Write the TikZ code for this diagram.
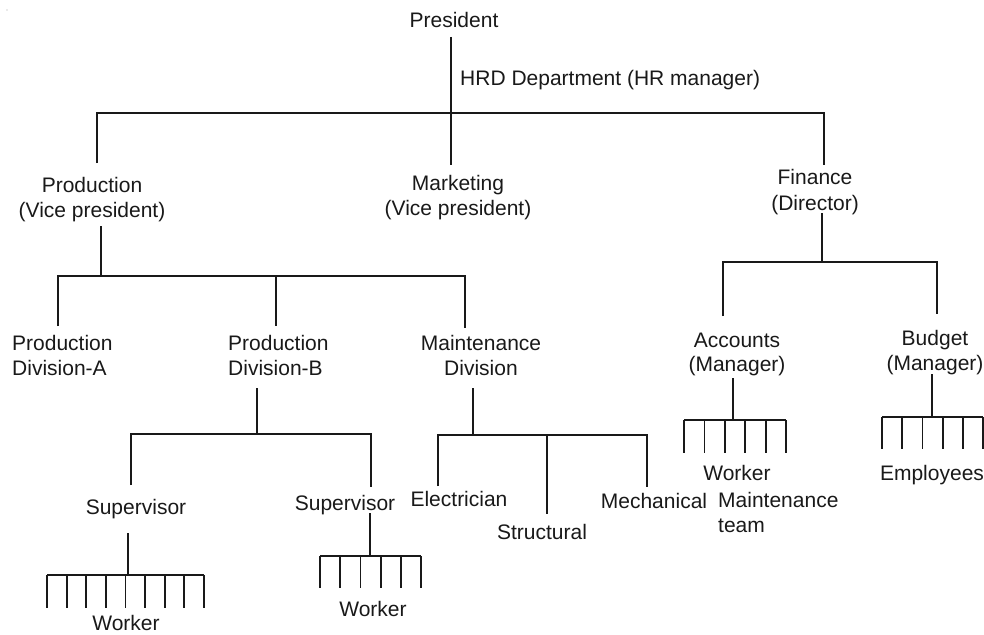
\documentclass[tikz,border=0pt]{standalone}
\usepackage{fontspec}
\setmainfont{Liberation Sans}
\begin{document}
\begin{tikzpicture}[x=1pt,y=-1pt,
  lbl/.style={inner sep=0pt,anchor=base,font=\fontsize{21}{25}\selectfont,text=black!90},
  lblw/.style={lbl,anchor=base west},
  ln/.style={draw=black!90,line width=1.8pt}]
\useasboundingbox (0,0) rectangle (984,634);
\fill[black!35] (7,10) circle (0.6);
% ---- labels ----
\node[lbl] (pres) at (454,28) {President};
\node[lblw] (hrd) at (460,85) {HRD Department (HR manager)};
\node[lbl] (prodA) at (92,192) {Production};
\node[lbl] (prodB) at (92,217) {(Vice president)};
\node[lbl] (mktA) at (458,190) {Marketing};
\node[lbl] (mktB) at (458,215) {(Vice president)};
\node[lbl] (finA) at (815,184) {Finance};
\node[lbl] (finB) at (815,210) {(Director)};
\node[lblw] (pdaA) at (12,350) {Production};
\node[lblw] (pdaB) at (12,375) {Division-A};
\node[lblw] (pdbA) at (228,350) {Production};
\node[lblw] (pdbB) at (228,375) {Division-B};
\node[lbl] (mdA) at (481,350) {Maintenance};
\node[lbl] (mdB) at (481,375) {Division};
\node[lbl] (supL) at (136,514) {Supervisor};
\node[lbl] (supR) at (345,510) {Supervisor};
\node[lbl] (wrkL) at (126,630) {Worker};
\node[lbl] (wrkR) at (373,616) {Worker};
\node[lbl] (elec) at (459,506) {Electrician};
\node[lbl] (struc) at (542,539) {Structural};
\node[lbl] (mech) at (654,508) {Mechanical};
\node[lbl] (accA) at (737,347) {Accounts};
\node[lbl] (accB) at (737,371) {(Manager)};
\node[lbl] (budA) at (935,345) {Budget};
\node[lbl] (budB) at (935,370) {(Manager)};
\node[lbl] (wrkA) at (737,480) {Worker};
\node[lblw] (mtA) at (718,507) {Maintenance};
\node[lblw] (mtB) at (718,532) {team};
\node[lbl] (empl) at (932,480) {Employees};
% ---- connector points ----
\coordinate (p0) at (451,37);
\coordinate (bus1) at (451,113);
\coordinate (bus1L) at (97,113);
\coordinate (bus1R) at (824,113);
\coordinate (mkt0) at (451,165);
\coordinate (prod0) at (97,163);
\coordinate (fin0) at (824,165);
% production
\coordinate (pr1) at (101,226);
\coordinate (pr2) at (101,276);
\coordinate (bus2L) at (58,276);
\coordinate (bus2R) at (465,276);
\coordinate (bus2M) at (276,276);
\coordinate (pda0) at (58,326);
\coordinate (pdb0) at (276,326);
\coordinate (md0) at (465,328);
% division B
\coordinate (db1) at (257,388);
\coordinate (db2) at (257,434);
\coordinate (bus3L) at (131,434);
\coordinate (bus3R) at (371,434);
\coordinate (sl0) at (131,485);
\coordinate (sr0) at (371,487);
% supervisors
\coordinate (sl1) at (128,533);
\coordinate (sl2) at (128,575);
\coordinate (sr1) at (370,513);
\coordinate (sr2) at (370,556);
% maintenance
\coordinate (mm1) at (473,388);
\coordinate (mm2) at (473,435);
\coordinate (bus4L) at (438,435);
\coordinate (bus4M) at (547,435);
\coordinate (bus4R) at (647,435);
\coordinate (el0) at (438,486);
\coordinate (st0) at (547,514);
\coordinate (me0) at (647,487);
% finance
\coordinate (f1) at (822,213);
\coordinate (f2) at (822,262);
\coordinate (bus5L) at (723,262);
\coordinate (bus5R) at (937,262);
\coordinate (ac0) at (723,316);
\coordinate (bu0) at (937,314);
\coordinate (ac1) at (733,378);
\coordinate (ac2) at (733,420);
\coordinate (bu1) at (932,374);
\coordinate (bu2) at (932,417);
% ---- connectors ----
\draw[ln] (p0) -- (bus1) -- (mkt0);
\draw[ln] (prod0) -- (bus1L) -- (bus1R) -- (fin0);
\draw[ln] (pr1) -- (pr2);
\draw[ln] (pda0) -- (bus2L) -- (bus2R) -- (md0);
\draw[ln] (bus2M) -- (pdb0);
\draw[ln] (db1) -- (db2);
\draw[ln] (sl0) -- (bus3L) -- (bus3R) -- (sr0);
\draw[ln] (sl1) -- (sl2);
\draw[ln] (sr1) -- (sr2);
\draw[ln] (mm1) -- (mm2);
\draw[ln] (el0) -- (bus4L) -- (bus4R) -- (me0);
\draw[ln] (bus4M) -- (st0);
\draw[ln] (f1) -- (f2);
\draw[ln] (ac0) -- (bus5L) -- (bus5R) -- (bu0);
\draw[ln] (ac1) -- (ac2);
\draw[ln] (bu1) -- (bu2);
% ---- combs ----
\draw[ln] (47,575) -- (204,575);
\foreach \i in {0,...,8} \draw[ln] ({47+\i*19.625},575) -- ({47+\i*19.625},608);
\draw[ln] (320,556) -- (421,556);
\foreach \i in {0,...,5} \draw[ln] ({320+\i*20.2},556) -- ({320+\i*20.2},588);
\draw[ln] (684,420) -- (786,420);
\foreach \i in {0,...,5} \draw[ln] ({684+\i*20.4},420) -- ({684+\i*20.4},453);
\draw[ln] (882,417) -- (983,417);
\foreach \i in {0,...,5} \draw[ln] ({882+\i*20.2},417) -- ({882+\i*20.2},449);
\end{tikzpicture}
\end{document}
